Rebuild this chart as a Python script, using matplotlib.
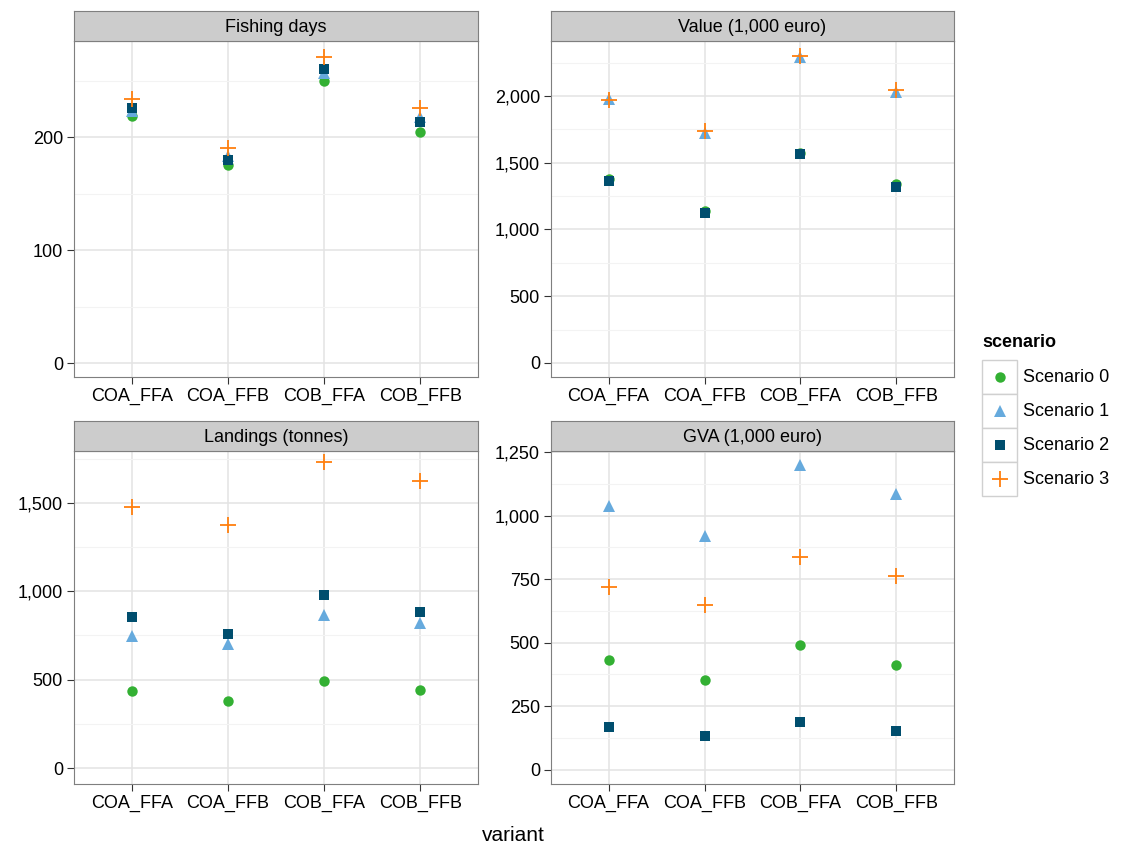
import matplotlib
matplotlib.use("Agg")
import matplotlib.pyplot as plt
from matplotlib.ticker import FuncFormatter, MultipleLocator
from matplotlib.lines import Line2D
from matplotlib.patches import Rectangle

plt.rcParams['font.family'] = ['Liberation Sans', 'DejaVu Sans']

variants = ["COA_FFA", "COA_FFB", "COB_FFA", "COB_FFB"]
scenarios = ["Scenario 0", "Scenario 1", "Scenario 2", "Scenario 3"]
fishing_days = {"Scenario 0": [219, 175, 250, 205], "Scenario 1": [223, 183, 257, 218],
                "Scenario 2": [226, 180, 260, 213], "Scenario 3": [234, 190, 271, 226]}
value = {"Scenario 0": [1380, 1140, 1570, 1340], "Scenario 1": [1980, 1720, 2290, 2030],
         "Scenario 2": [1360, 1120, 1565, 1320], "Scenario 3": [1970, 1740, 2300, 2045]}
landings = {"Scenario 0": [434, 380, 490, 440], "Scenario 1": [745, 700, 863, 818],
            "Scenario 2": [852, 756, 981, 880], "Scenario 3": [1478, 1376, 1732, 1624]}
gva = {"Scenario 0": [430, 354, 490, 412], "Scenario 1": [1038, 921, 1200, 1086],
       "Scenario 2": [166, 131, 186, 151], "Scenario 3": [719, 648, 839, 761]}

colors = {"Scenario 0": "#33b033", "Scenario 1": "#66aadd", "Scenario 2": "#004e6e", "Scenario 3": "#ff7f0e"}
markers = {"Scenario 0": "o", "Scenario 1": "^", "Scenario 2": "s", "Scenario 3": "+"}
msize = {"Scenario 0": 7.5, "Scenario 1": 8, "Scenario 2": 7.5, "Scenario 3": 11}

panels = [
    ("Fishing days", fishing_days, (74, 41, 478, 377), (-12, 285), 100, 50),
    ("Value (1,000 euro)", value, (551, 41, 954, 377), (-105, 2412), 500, 250),
    ("Landings (tonnes)", landings, (74, 451, 478, 784), (-90, 1793), 500, 250),
    ("GVA (1,000 euro)", gva, (551, 451, 954, 784), (-57, 1255), 250, 125),
]
W, H = 1123, 847
fig = plt.figure(figsize=(W / 100, H / 100), dpi=100)
fmt = FuncFormatter(lambda v, p: f"{int(v):,}")
for title, data, (x0, y0, x1, y1), ylim, major, minor in panels:
    ax = fig.add_axes([x0 / W, (H - y1) / H, (x1 - x0) / W, (y1 - y0) / H])
    ax.set_xlim(-0.6, 3.6)
    ax.set_ylim(*ylim)
    ax.yaxis.set_major_locator(MultipleLocator(major))
    ax.yaxis.set_minor_locator(MultipleLocator(minor))
    ax.yaxis.set_major_formatter(fmt)
    ax.set_xticks(range(4))
    ax.set_xticklabels(variants)
    ax.grid(True, which="major", color="#e3e3e3", lw=1.1)
    ax.grid(True, which="minor", axis="y", color="#f3f3f3", lw=0.8)
    ax.set_axisbelow(True)
    for s in ax.spines.values():
        s.set_color("#7f7f7f")
    ax.tick_params(which="minor", length=0)
    ax.tick_params(which="major", labelsize=13, colors="black", length=5, color="#333333", pad=3)
    for sc in scenarios:
        kw = dict(mew=1.3) if sc == "Scenario 3" else dict(mew=0)
        ax.plot(range(4), data[sc], ls="none", marker=markers[sc], color=colors[sc], ms=msize[sc], **kw)
    sx = fig.add_axes([x0 / W, (H - y0) / H, (x1 - x0) / W, 30 / H])
    sx.set_facecolor("#cccccc")
    sx.set_xticks([]); sx.set_yticks([])
    for s in sx.spines.values():
        s.set_color("#7f7f7f")
    sx.text(0.5, 0.45, title, ha="center", va="center", fontsize=13, transform=sx.transAxes)

fig.text(513 / W, 1 - 835 / H, "variant", ha="center", va="center", fontsize=15)

# legend
fig.text(982 / W, 1 - 342 / H, "scenario", ha="left", va="center", fontsize=13, fontweight="bold")
for i, sc in enumerate(scenarios):
    yc = 377 + i * 34
    fig.patches.append(Rectangle((982 / W, 1 - (yc + 17) / H), 35 / W, 34 / H,
                                 transform=fig.transFigure, facecolor="white", edgecolor="#d0d0d0", lw=1))
    fig.lines.append(Line2D([999.5 / W], [1 - yc / H], transform=fig.transFigure, ls="none",
                            marker=markers[sc], color=colors[sc], ms=msize[sc],
                            mew=(1.3 if sc == "Scenario 3" else 0)))
    fig.text(1023 / W, 1 - yc / H, sc, ha="left", va="center", fontsize=13)
fig.savefig("out.png", dpi=100)
